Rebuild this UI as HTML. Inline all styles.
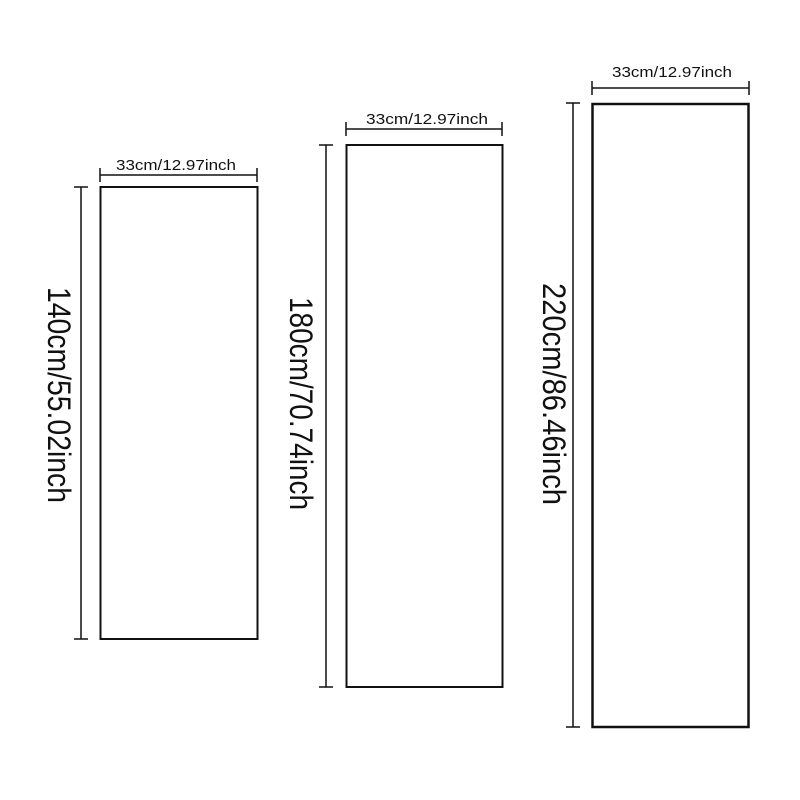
<!DOCTYPE html>
<html><head><meta charset="utf-8"><style>html,body{margin:0;padding:0;background:#fff}svg{display:block}</style></head>
<body>
<svg width="800" height="800" viewBox="0 0 800 800" xmlns="http://www.w3.org/2000/svg" font-family="Liberation Sans, Arial, sans-serif" fill="#111">
<g fill="none" stroke="#111">
  <!-- rect 1 -->
  <rect x="100.5" y="187" width="157" height="452" stroke-width="2"/>
  <line x1="100" y1="175" x2="257" y2="175" stroke-width="1.5"/>
  <line x1="100" y1="168" x2="100" y2="182" stroke-width="1.5"/>
  <line x1="257" y1="168" x2="257" y2="182" stroke-width="1.5"/>
  <line x1="81" y1="187" x2="81" y2="639" stroke-width="1.5"/>
  <line x1="74" y1="187" x2="88" y2="187" stroke-width="1.5"/>
  <line x1="74" y1="639" x2="88" y2="639" stroke-width="1.5"/>
  <!-- rect 2 -->
  <rect x="346.5" y="145" width="156" height="542" stroke-width="2"/>
  <line x1="346" y1="129" x2="502" y2="129" stroke-width="1.5"/>
  <line x1="346" y1="122" x2="346" y2="136" stroke-width="1.5"/>
  <line x1="502" y1="122" x2="502" y2="136" stroke-width="1.5"/>
  <line x1="326" y1="145" x2="326" y2="687" stroke-width="1.5"/>
  <line x1="319" y1="145" x2="333" y2="145" stroke-width="1.5"/>
  <line x1="319" y1="687" x2="333" y2="687" stroke-width="1.5"/>
  <!-- rect 3 -->
  <rect x="592.5" y="104" width="156" height="623" stroke-width="2.5"/>
  <line x1="592" y1="88" x2="749" y2="88" stroke-width="1.5"/>
  <line x1="592" y1="81" x2="592" y2="95" stroke-width="1.5"/>
  <line x1="749" y1="81" x2="749" y2="95" stroke-width="1.5"/>
  <line x1="573" y1="103" x2="573" y2="727" stroke-width="1.5"/>
  <line x1="566" y1="103" x2="580" y2="103" stroke-width="1.5"/>
  <line x1="566" y1="727" x2="580" y2="727" stroke-width="1.5"/>
</g>
<text x="116" y="170" font-size="15" textLength="120" lengthAdjust="spacingAndGlyphs">33cm/12.97inch</text>
<text x="366" y="124" font-size="15" textLength="122" lengthAdjust="spacingAndGlyphs">33cm/12.97inch</text>
<text x="612" y="77" font-size="15" textLength="120" lengthAdjust="spacingAndGlyphs">33cm/12.97inch</text>
<text transform="translate(48,287) rotate(90)" font-size="32" textLength="216" lengthAdjust="spacingAndGlyphs">140cm/55.02inch</text>
<text transform="translate(290,297) rotate(90)" font-size="32" textLength="213" lengthAdjust="spacingAndGlyphs">180cm/70.74inch</text>
<text transform="translate(543,283) rotate(90)" font-size="32" textLength="222" lengthAdjust="spacingAndGlyphs">220cm/86.46inch</text>
</svg>
</body></html>
